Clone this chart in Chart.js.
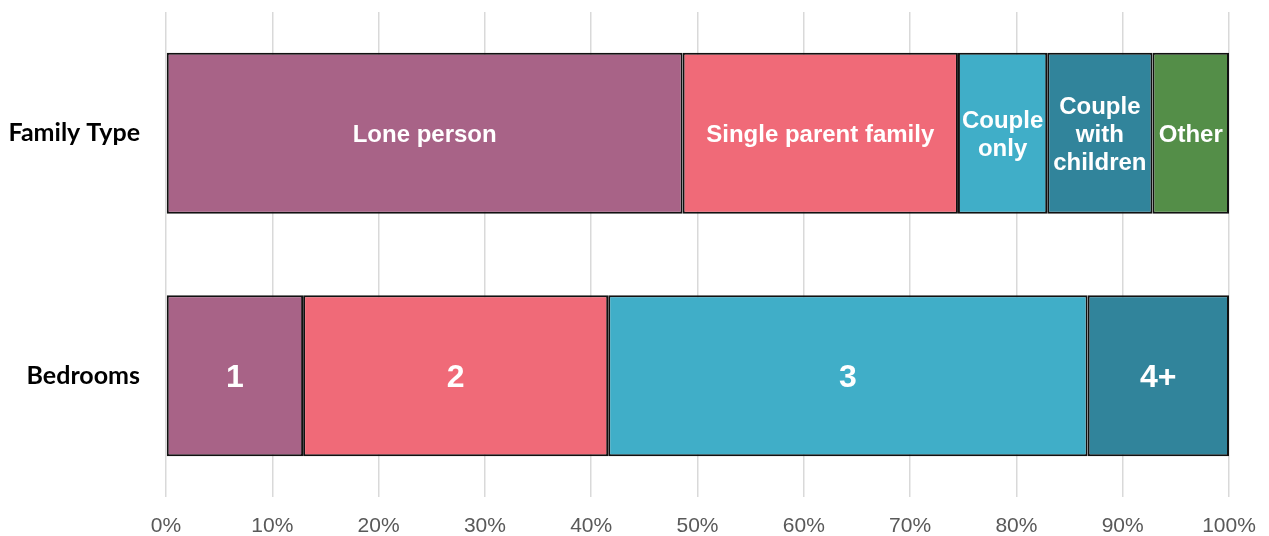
<!DOCTYPE html>
<html>
<head>
<meta charset="utf-8">
<script src="https://cdn.jsdelivr.net/npm/chart.js@4/dist/chart.umd.min.js"></script>
<style>
html,body{margin:0;padding:0;background:#fff;}
#wrap{width:1269px;height:536px;position:relative;}
</style>
</head>
<body>
<div id="wrap"><canvas id="c" width="1269" height="536"></canvas></div>
<script>
// Categories (y axis)
const categories = ["Family Type", "Bedrooms"];
// Segment values (percent) by stacking position
const seg1 = [48.6, 12.9];
const seg2 = [25.9, 28.7];
const seg3 = [8.4, 45.1];
const seg4 = [9.9, 13.3];
const seg5 = [7.2, null];
// Segment labels
const familyLabels = ["Lone person", "Single parent family", "Couple\nonly", "Couple\nwith\nchildren", "Other"];
const bedroomLabels = ["1", "2", "3", "4+", ""];
// X tick values
const xTicks = [0,10,20,30,40,50,60,70,80,90,100];

const colors = ["#A86387", "#F06A78", "#40AEC8", "#31849B", "#548E48"];
const segs = [seg1, seg2, seg3, seg4, seg5];

const datasets = segs.map((d, i) => ({
  label: "S" + (i+1),
  data: d,
  backgroundColor: colors[i],
  borderColor: "#111",
  borderWidth: 2,
  borderSkipped: false,
  categoryPercentage: 1,
  barPercentage: 0.664
}));

const labelPlugin = {
  id: "segLabels",
  afterDatasetsDraw(chart) {
    const ctx = chart.ctx;
    ctx.save();
    ctx.fillStyle = "#fff";
    ctx.textAlign = "center";
    ctx.textBaseline = "middle";
    chart.data.datasets.forEach((ds, di) => {
      const meta = chart.getDatasetMeta(di);
      meta.data.forEach((el, ci) => {
        if (ds.data[ci] == null) return;
        const txt = ci === 0 ? familyLabels[di] : bedroomLabels[di];
        if (!txt) return;
        const size = ci === 0 ? 24 : 32;
        const lh = ci === 0 ? 28 : 34;
        ctx.font = "bold " + size + "px 'Liberation Sans', Arial, sans-serif";
        const lines = txt.split("\n");
        const cx = (el.x + el.base) / 2;
        const cy = el.y;
        lines.forEach((ln, k) => {
          ctx.fillText(ln, cx, cy + (k - (lines.length - 1) / 2) * lh + 2);
        });
      });
    });
    ctx.restore();
  }
};

new Chart(document.getElementById("c"), {
  type: "bar",
  data: { labels: categories, datasets },
  options: {
    indexAxis: "y",
    responsive: false,
    animation: false,
    layout: { padding: { top: 12, right: 40, bottom: 0, left: 0 } },
    plugins: { legend: { display: false }, tooltip: { enabled: false } },
    scales: {
      x: {
        stacked: true,
        min: 0, max: 100,
        afterBuildTicks(scale) { scale.ticks = xTicks.map(v => ({ value: v })); },
        afterFit(scale) { scale.height = 39; scale.paddingLeft = 0; scale.paddingRight = 0; },
        grid: { color: "#d9d9d9", lineWidth: 1.5, drawTicks: false },
        border: { display: false },
        ticks: {
          padding: 17,
          color: "#595959",
          font: { family: "'Liberation Sans', Arial, sans-serif", size: 21 },
          callback: v => v + "%",
          maxRotation: 0
        }
      },
      y: {
        stacked: true,
        afterFit(scale) { scale.width = 166; scale.paddingTop = 0; scale.paddingBottom = 0; },
        grid: { display: false, drawTicks: false },
        border: { display: false },
        ticks: {
          padding: 26,
          color: "#000",
          font: { family: "Lato, 'Open Sans', sans-serif", size: 25, weight: "bold" }
        }
      }
    }
  },
  plugins: [labelPlugin]
});
</script>
</body>
</html>
